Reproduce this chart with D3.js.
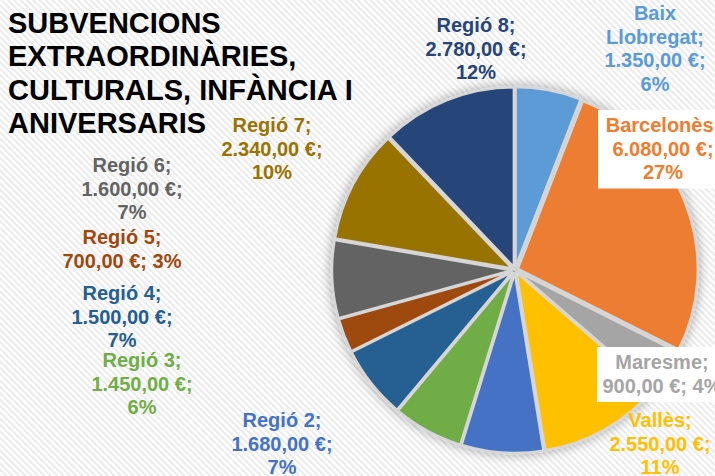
<!DOCTYPE html>
<html>
<head>
<meta charset="utf-8">
<script src="https://cdn.jsdelivr.net/npm/d3@7"></script>
<style>
  body { margin: 0; background: #fff; }
  svg { display: block; font-family: "Liberation Sans", Arial, sans-serif; }
</style>
</head>
<body>
<div id="chart"></div>
<script>
const regions = ['Baix Llobregat', 'Barcelonès', 'Maresme', 'Vallès', 'Regió 2', 'Regió 3',
                 'Regió 4', 'Regió 5', 'Regió 6', 'Regió 7', 'Regió 8'];
const amounts = [1350, 6080, 900, 2550, 1680, 1450, 1500, 700, 1600, 2340, 2780];
const colors = ['#5B9BD5', '#ED7D31', '#A5A5A5', '#FFC000', '#4472C4', '#70AD47',
                '#255E91', '#9E480E', '#636363', '#997300', '#264478'];
const titleLines = ['SUBVENCIONS', 'EXTRAORDINÀRIES,', 'CULTURALS, INFÀNCIA I', 'ANIVERSARIS'];

// label layout: centre x, first baseline, how the text wraps, white box behind
const labelLayout = [
  { x: 655, y: 20,  wrap: 'split' },
  { x: 663, y: 132, wrap: 'full', box: true },
  { x: 662, y: 369, wrap: 'short', box: true },
  { x: 660, y: 427, wrap: 'full' },
  { x: 282, y: 427, wrap: 'full' },
  { x: 142, y: 367, wrap: 'full' },
  { x: 122, y: 300, wrap: 'full' },
  { x: 122, y: 244, wrap: 'short' },
  { x: 132, y: 172, wrap: 'full' },
  { x: 272, y: 132, wrap: 'full' },
  { x: 476, y: 32,  wrap: 'full' }
];

const W = 715, H = 476;
const cx = 515, cy = 270, R = 180;

const svg = d3.select('#chart').append('svg')
  .attr('width', W).attr('height', H);

const defs = svg.append('defs');
const pat = defs.append('pattern')
  .attr('id', 'stripes')
  .attr('width', 4.5).attr('height', 4.5)
  .attr('patternUnits', 'userSpaceOnUse')
  .attr('patternTransform', 'rotate(-45)');
pat.append('rect').attr('width', 4.5).attr('height', 4.5).attr('fill', '#ffffff');
pat.append('rect').attr('width', 2).attr('height', 4.5).attr('fill', '#ebebeb');

const shadow = defs.append('filter').attr('id', 'shadow')
  .attr('x', '-20%').attr('y', '-20%').attr('width', '140%').attr('height', '140%');
shadow.append('feDropShadow')
  .attr('dx', 0).attr('dy', 0).attr('stdDeviation', 6)
  .attr('flood-color', '#000').attr('flood-opacity', 0.35);

svg.append('rect').attr('width', W).attr('height', H).attr('fill', 'url(#stripes)');

// title
svg.append('text')
  .attr('x', 8).attr('y', 33)
  .attr('font-size', 29).attr('font-weight', 'bold').attr('fill', '#000')
  .selectAll('tspan')
  .data(titleLines)
  .enter()
  .append('tspan')
  .attr('x', 8)
  .attr('dy', (d, i) => i === 0 ? 0 : 33.3)
  .text(d => d);

// pie
const data = regions.map((r, i) => ({ name: r, value: amounts[i], color: colors[i], layout: labelLayout[i] }));
const total = d3.sum(amounts);

const pie = d3.pie().sort(null).value(d => d.value);
const arc = d3.arc().innerRadius(0).outerRadius(R);
const arcs = pie(data);

const g = svg.append('g')
  .attr('transform', `translate(${cx},${cy})`)
  .attr('filter', 'url(#shadow)');

const explode = 3;
g.selectAll('path')
  .data(arcs)
  .enter()
  .append('path')
  .attr('transform', d => {
    const a = (d.startAngle + d.endAngle) / 2;
    return `translate(${Math.sin(a) * explode},${-Math.cos(a) * explode})`;
  })
  .attr('d', arc)
  .attr('fill', d => d.data.color)
  .attr('stroke', '#d6d6d6')
  .attr('stroke-width', 2.5);

// labels
const loc = d3.formatLocale({ decimal: ',', thousands: '.', grouping: [3], currency: ['', ' €'] });
const money = loc.format(',.2f');

function labelLines(d) {
  const amt = money(d.value) + ' €;';
  const pct = Math.round(d.value / total * 100) + '%';
  const w = d.layout.wrap;
  if (w === 'split') return [...d.name.split(' ').slice(0, -1), d.name.split(' ').slice(-1)[0] + ';', amt, pct];
  if (w === 'short') return [d.name + ';', amt + ' ' + pct];
  return [d.name + ';', amt, pct];
}

const lineH = 23.5;
const labels = svg.append('g').selectAll('g')
  .data(data)
  .enter()
  .append('g');

labels.filter(d => d.layout.box)
  .append('rect')
  .attr('x', d => d.layout.x - 65)
  .attr('y', d => d.layout.y - 22)
  .attr('width', 140)
  .attr('height', d => labelLines(d).length * lineH + 8)
  .attr('fill', '#fff');

labels.append('text')
  .attr('text-anchor', 'middle')
  .attr('font-size', 20)
  .attr('font-weight', 'bold')
  .attr('fill', d => d.color)
  .each(function(d) {
    d3.select(this).selectAll('tspan')
      .data(labelLines(d))
      .enter()
      .append('tspan')
      .attr('x', d.layout.x)
      .attr('y', (t, i) => d.layout.y + i * lineH)
      .text(t => t);
  });
</script>
</body>
</html>
